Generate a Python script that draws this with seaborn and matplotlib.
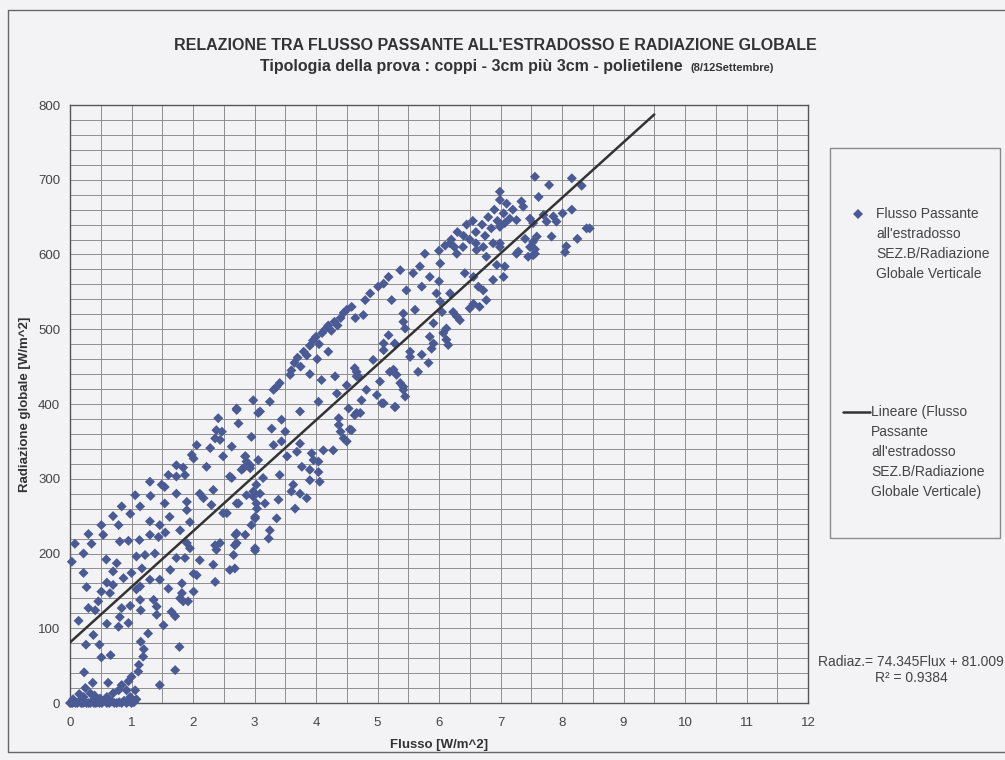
import numpy as np
import pandas as pd
import matplotlib
matplotlib.use("Agg")
import matplotlib.pyplot as plt
from matplotlib.ticker import MultipleLocator
from matplotlib.lines import Line2D
from matplotlib.patches import Rectangle
import seaborn as sns

sns.set_theme(style="white")
plt.rcParams["font.family"] = ["Liberation Sans", "DejaVu Sans"]

# ---------------- data ----------------
# night / near-zero readings
flux_night = [0.00, 0.02, 0.04, 0.06, 0.09, 0.12, 0.15, 0.18, 0.21, 0.24, 0.27, 0.30, 0.33, 0.36,
              0.39, 0.42, 0.45, 0.48, 0.52, 0.56, 0.60, 0.64, 0.68, 0.72, 0.76, 0.80, 0.84, 0.88,
              0.92, 0.96, 1.00, 1.04,
              0.05, 0.15, 0.22, 0.25, 0.33, 0.37, 0.40, 0.49, 0.60, 0.62, 0.70, 0.79, 0.84, 0.92,
              0.95, 0.98, 1.00, 1.06, 1.08]
rad_night = [0, 0, 0, 1, 0, 0, 2, 0, 0, 1, 0, 0, 0, 2,
             0, 0, 1, 0, 0, 3, 0, 0, 2, 0, 0, 1, 0, 3,
             0, 2, 0, 1,
             5, 12, 8, 20, 13, 27, 10, 6, 8, 27, 13, 17, 24, 17,
             29, 8, 35, 17, 5]

# lower branch of the loop
flux_low = [1.11, 1.12, 1.19, 1.20, 1.15, 1.27, 1.46, 1.71, 1.78, 1.41, 1.41, 1.52, 1.65, 1.71,
            1.36, 1.14, 1.08, 1.14, 1.79, 1.84, 1.92, 1.82, 1.82, 2.01, 2.06, 2.01, 1.60, 1.30,
            1.46, 1.63, 2.36, 2.60, 2.68, 2.33, 2.11, 1.73, 1.87, 2.66, 3.01, 1.95, 1.90, 2.38,
            2.36, 2.69, 2.85,
            2.68, 3.01, 2.71, 3.23, 3.25, 2.95, 3.01, 3.36, 3.04, 2.71, 3.17, 3.66, 3.39, 2.87,
            2.98, 3.09, 3.60, 3.74, 3.85, 3.63, 3.03, 3.90, 4.06, 2.63, 3.14, 3.41, 3.90, 4.04,
            3.77, 2.82, 2.93, 2.85, 2.87, 3.06, 3.53, 3.93, 3.96, 4.04, 4.12, 4.28, 3.69,
            4.37, 4.37, 4.40, 4.45, 4.50, 4.55, 4.53, 4.63, 4.72, 4.74, 4.82, 4.99, 5.07, 5.04,
            5.29, 5.42, 5.45, 4.58, 4.66, 5.10, 5.28, 5.42, 5.37, 5.31, 5.26, 5.20, 4.66, 4.63,
            5.66, 5.83, 4.93, 5.53, 5.53, 5.72, 5.88, 5.10, 5.10, 5.28, 5.91, 6.15, 6.12, 5.85,
            5.18, 6.07, 6.12, 5.91, 5.45, 5.42, 6.34, 6.29, 6.23, 5.42, 5.61, 6.05, 6.50, 6.66,
            6.56, 6.02, 6.77, 5.96, 6.18, 6.72, 6.64, 6.88, 7.05, 7.07, 6.94, 7.45, 7.53, 7.56,
            7.29, 8.05, 8.07, 7.40, 7.59, 7.83, 8.25, 8.40, 8.45, 6.99, 6.99, 7.07, 7.15, 7.26,
            7.53, 7.75, 7.91, 7.48, 7.70, 7.86, 8.01, 8.16]
rad_low = [42, 51, 62, 72, 82, 93, 24, 44, 75, 118, 129, 104, 122, 116,
           138, 138, 152, 156, 140, 136, 136, 147, 160, 149, 171, 173, 153, 165,
           165, 178, 162, 178, 180, 185, 191, 194, 194, 198, 204, 207, 214, 205,
           211, 225, 225,
           211, 207, 227, 220, 231, 238, 249, 247, 260, 267, 267, 260, 272, 278,
           283, 280, 283, 280, 274, 292, 292, 298, 296, 301, 301, 305, 312, 309,
           316, 314, 314, 330, 323, 325, 330, 334, 325, 323, 338, 338, 336,
           381, 372, 363, 354, 350, 366, 394, 385, 388, 405, 419, 412, 401, 430,
           396, 423, 410, 365, 388, 401, 396, 419, 428, 439, 446, 443, 437, 448,
           443, 455, 459, 463, 470, 466, 474, 472, 481, 481, 481, 479, 486, 490,
           492, 495, 501, 508, 501, 510, 512, 517, 523, 521, 526, 523, 528, 530,
           534, 537, 539, 548, 548, 552, 557, 566, 570, 584, 586, 597, 599, 607,
           604, 603, 611, 621, 624, 624, 621, 635, 635, 615, 637, 642, 648, 646,
           642, 644, 644, 648, 653, 651, 655, 660]

# upper branch of the loop
flux_up = [0.30, 0.54, 0.08, 0.35, 0.22, 0.03, 0.59, 0.76, 0.81, 0.95, 1.13, 1.30, 1.44, 1.55,
           1.08, 1.22, 1.38, 0.22, 0.70, 1.00, 1.17, 0.87, 0.60, 0.70, 0.27, 0.51, 0.65, 0.46,
           0.30, 0.41, 0.14, 0.84, 0.98, 1.15, 0.81, 0.95, 0.60, 0.79, 0.38, 0.26, 0.48, 0.51,
           0.66, 0.23,
           0.51, 0.70, 0.79, 0.84, 0.98, 1.06, 1.14, 1.30, 1.30, 1.31, 1.46, 1.49, 1.54, 1.54,
           1.60, 1.62, 1.73, 1.73, 1.73, 1.79, 1.84, 1.87, 1.90, 1.90, 1.95, 1.98, 2.01, 2.06,
           2.11, 2.17, 2.22, 2.28, 2.30, 2.33, 2.36, 2.38, 2.41, 2.47, 2.44, 2.49, 2.55, 2.60,
           2.63, 2.71, 2.74, 2.74, 2.79, 2.85, 2.93, 2.95, 2.98, 3.06, 2.98, 3.03, 3.01, 2.71,
           2.49, 2.44,
           3.58, 3.41, 3.31, 3.36, 3.25, 2.71, 3.09, 4.09, 4.31, 4.50, 4.66, 4.69, 4.04, 4.34,
           3.74, 3.44, 3.28, 3.50, 3.31, 3.44, 3.74,
           3.60, 3.65, 3.70, 3.75, 3.80, 3.85, 3.90, 3.95, 4.00, 4.05, 4.10, 4.15, 4.20, 4.25,
           4.30, 4.35, 4.40, 4.45, 4.50, 4.02, 4.20, 3.90,
           4.58, 4.64, 4.77, 4.80, 4.88, 5.01, 5.10, 5.18, 5.23, 5.47, 5.37, 5.58, 5.69, 5.72,
           5.77, 5.85, 6.00, 6.02, 6.18, 6.29, 6.39, 6.42, 6.56, 6.61, 6.72, 6.77, 6.88, 6.99,
           7.26, 7.48, 7.56, 7.53,
           6.50, 6.60, 6.70, 6.75, 6.80, 6.85, 6.90, 6.95, 6.60, 6.40, 6.30, 6.45, 6.55, 6.20,
           6.25, 6.00, 6.10, 6.99, 6.99, 7.34, 7.37, 7.56, 8.16, 7.79, 8.32, 7.62, 7.05, 7.20,
           7.10]
rad_up = [226, 225, 213, 213, 200, 189, 192, 187, 216, 217, 218, 225, 222, 228,
          196, 198, 200, 174, 176, 174, 180, 167, 161, 158, 155, 149, 147, 136,
          127, 124, 110, 127, 130, 124, 115, 107, 106, 102, 91, 78, 78, 61,
          64, 41,
          238, 250, 238, 263, 253, 278, 263, 243, 296, 277, 238, 292, 289, 267,
          305, 249, 318, 303, 280, 231, 315, 305, 258, 269, 242, 332, 327, 345,
          280, 274, 316, 341, 265, 285, 354, 365, 381, 363, 352, 330, 254, 303,
          343, 392, 374, 267, 312, 330, 318, 356, 405, 388, 276, 267, 247, 214,
          254, 214,
          439, 428, 419, 423, 403, 394, 390, 432, 437, 425, 443, 437, 403, 414,
          390, 379, 367, 363, 345, 350, 347,
          445, 455, 462, 450, 470, 465, 478, 485, 490, 480, 495, 500, 505, 498,
          510, 505, 515, 522, 526, 460, 470, 440,
          530, 515, 519, 539, 548, 557, 561, 570, 539, 552, 579, 575, 584, 557,
          601, 570, 564, 588, 615, 601, 610, 575, 570, 606, 610, 597, 615, 610,
          601, 610, 601, 617,
          620, 630, 640, 625, 650, 635, 660, 645, 615, 625, 630, 640, 645, 620,
          610, 605, 612, 684, 673, 671, 664, 704, 702, 693, 692, 677, 655, 660,
          668]

# linear trend line (Excel trendline)
trend_slope = 74.345
trend_intercept = 81.009
trend_r2 = 0.9384
trend_x = [0.0, 9.5]

title = "RELAZIONE TRA FLUSSO PASSANTE ALL'ESTRADOSSO E RADIAZIONE GLOBALE"
subtitle = "Tipologia della prova : coppi - 3cm più 3cm - polietilene"
subtitle_date = "(8/12Settembre)"
x_label = "Flusso [W/m^2]"
y_label = "Radiazione globale [W/m^2]"
legend_scatter = ["Flusso Passante", "all'estradosso", "SEZ.B/Radiazione", "Globale Verticale"]
legend_line = ["Lineare (Flusso", "Passante", "all'estradosso", "SEZ.B/Radiazione", "Globale Verticale)"]

# ---------------- figure ----------------
W, H = 1005, 760
BG = "#f3f3f5"
PT_COLOR = "#4a5a94"

def fx(px):
    return px / W

def fy(py):
    return 1 - py / H

fig = plt.figure(figsize=(W / 100, H / 100), dpi=100, facecolor=BG)
ax = fig.add_axes([fx(70), fy(703), (808 - 70) / W, (703 - 105) / H])
ax.set_facecolor(BG)

df = pd.DataFrame({
    "flux": flux_night + flux_low + flux_up,
    "rad": rad_night + rad_low + rad_up,
})
sns.scatterplot(data=df, x="flux", y="rad", marker="D", s=26, color=PT_COLOR,
                edgecolor="none", linewidth=0, ax=ax, legend=False, zorder=3, clip_on=False)

trend_df = pd.DataFrame({"flux": trend_x,
                         "rad": [trend_slope * v + trend_intercept for v in trend_x]})
sns.lineplot(data=trend_df, x="flux", y="rad", color="#333333", linewidth=1.8, ax=ax, zorder=4)

ax.set_xlim(0, 12)
ax.set_ylim(0, 800)
ax.set_xticks(range(0, 13))
ax.set_yticks(range(0, 801, 100))
ax.xaxis.set_minor_locator(MultipleLocator(0.5))
ax.yaxis.set_minor_locator(MultipleLocator(20))
ax.grid(which="both", color="#8e8e8e", linewidth=0.7)
ax.set_axisbelow(True)
ax.tick_params(which="major", direction="out", length=4, width=0.8, color="#555555",
               labelsize=9.5, labelcolor="#444444", pad=3)
ax.tick_params(axis="x", which="major", pad=6)
ax.tick_params(which="minor", length=0)
for sp in ax.spines.values():
    sp.set_color("#555555")
    sp.set_linewidth(1.0)
    sp.set_visible(True)

ax.set_xlabel(x_label, fontsize=9.5, fontweight="bold", color="#333333")
ax.set_ylabel(y_label, fontsize=9.5, fontweight="bold", color="#333333")
ax.xaxis.set_label_coords(0.5, (703 - 745) / 598)
ax.xaxis.label.set_va("center")
ax.yaxis.set_label_coords((25 - 70) / 738, 0.5)
ax.yaxis.label.set_va("center")

# titles
fig.text(fx(495), fy(45), title, ha="center", va="center", fontsize=11.5,
         fontweight="bold", color="#333333")
fig.text(fx(683), fy(67), subtitle, ha="right", va="center", fontsize=11.5,
         fontweight="bold", color="#333333")
fig.text(fx(690), fy(68), subtitle_date, ha="left", va="center", fontsize=8,
         fontweight="bold", color="#333333")

# legend box (drawn by hand to match the tall Excel legend)
fig.patches.append(Rectangle((fx(830), fy(538)), (1000 - 830) / W, (538 - 148) / H,
                             transform=fig.transFigure, fill=False,
                             edgecolor="#8a8a8a", linewidth=1.0))
fig.add_artist(Line2D([fx(858)], [fy(214)], marker="D", markersize=np.sqrt(26),
                      color=PT_COLOR, markeredgewidth=0, linestyle="none",
                      transform=fig.transFigure))
for i, t in enumerate(legend_scatter):
    fig.text(fx(876), fy(214 + 20 * i), t, ha="left", va="center", fontsize=10,
             color="#444444")
fig.add_artist(Line2D([fx(843), fx(870)], [fy(412), fy(412)], color="#333333",
                      linewidth=1.8, transform=fig.transFigure))
for i, t in enumerate(legend_line):
    fig.text(fx(871), fy(412 + 20 * i), t, ha="left", va="center", fontsize=10,
             color="#444444")

# trend equation
fig.text(fx(911), fy(662), f"Radiaz.= {trend_slope}Flux + {trend_intercept:.3f}",
         ha="center", va="center", fontsize=10, color="#444444")
fig.text(fx(911), fy(678), f"R² = {trend_r2}", ha="center", va="center",
         fontsize=10, color="#444444")

# outer chart frame (left, top, bottom edges visible in the scan)
fig.add_artist(Line2D([fx(1010), fx(8), fx(8), fx(1010)],
                      [fy(10), fy(10), fy(752), fy(752)],
                      color="#666666", linewidth=1.0, transform=fig.transFigure))

fig.savefig("out.png", dpi=100, facecolor=BG)
